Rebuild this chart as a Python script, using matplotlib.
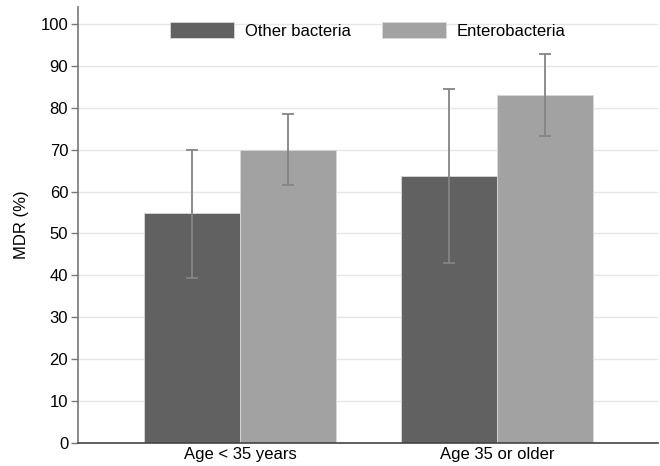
import numpy as np
import matplotlib
matplotlib.use("Agg")
import matplotlib.pyplot as plt

plt.rcParams['font.family'] = ['Liberation Sans', 'DejaVu Sans']

# data
groups = ["Age < 35 years", "Age 35 or older"]
series = ["Other bacteria", "Enterobacteria"]
other_vals = [54.8, 63.8]
other_lo = [39.4, 43.0]
other_hi = [70.0, 84.4]
entero_vals = [70.0, 83.1]
entero_lo = [61.5, 73.3]
entero_hi = [78.5, 92.8]

colors = ["#616161", "#a2a2a2"]
err_color = "#858585"
fs = 12

fig = plt.figure(figsize=(6.6, 4.66), dpi=100)
ax = fig.add_axes([0.118, 0.049, 0.879, 0.936])

x = np.arange(len(groups))
w = 0.372

for i, (vals, lo, hi) in enumerate([(other_vals, other_lo, other_hi),
                                    (entero_vals, entero_lo, entero_hi)]):
    pos = x + (i - 0.5) * w
    vals = np.array(vals)
    yerr = np.vstack([vals - np.array(lo), np.array(hi) - vals])
    ax.bar(pos, vals, width=w, color=colors[i], edgecolor="#d8d8d8",
           linewidth=0.6, label=series[i], zorder=2)
    ax.errorbar(pos, vals, yerr=yerr, fmt="none", ecolor=err_color,
                elinewidth=1.3, capsize=4, capthick=1.3, zorder=3)

ax.set_xlim(-0.63, 1.626)
ax.set_ylim(0, 104)
ax.set_yticks(np.arange(0, 101, 10))
ax.set_xticks(x)
ax.set_xticklabels(groups, fontsize=fs)
ax.tick_params(axis="x", length=0, pad=3)
ax.tick_params(axis="y", length=5, width=1, color="#777777", labelsize=fs, pad=2)
ax.set_ylabel("MDR (%)", fontsize=fs, labelpad=8)

ax.grid(axis="y", color="#e6e6e6", linewidth=1, zorder=0)
ax.set_axisbelow(True)
for s in ["top", "right"]:
    ax.spines[s].set_visible(False)
ax.spines["left"].set_color("#777777")
ax.spines["left"].set_linewidth(1.2)
ax.spines["bottom"].set_color("#444444")
ax.spines["bottom"].set_linewidth(1.2)

ax.legend(loc="upper center", ncol=2, frameon=False, fontsize=fs,
          handlelength=3.85, handleheight=1.08, columnspacing=1.85,
          handletextpad=0.66, bbox_to_anchor=(0.5, 1.0))

fig.savefig("out.png", dpi=100)
